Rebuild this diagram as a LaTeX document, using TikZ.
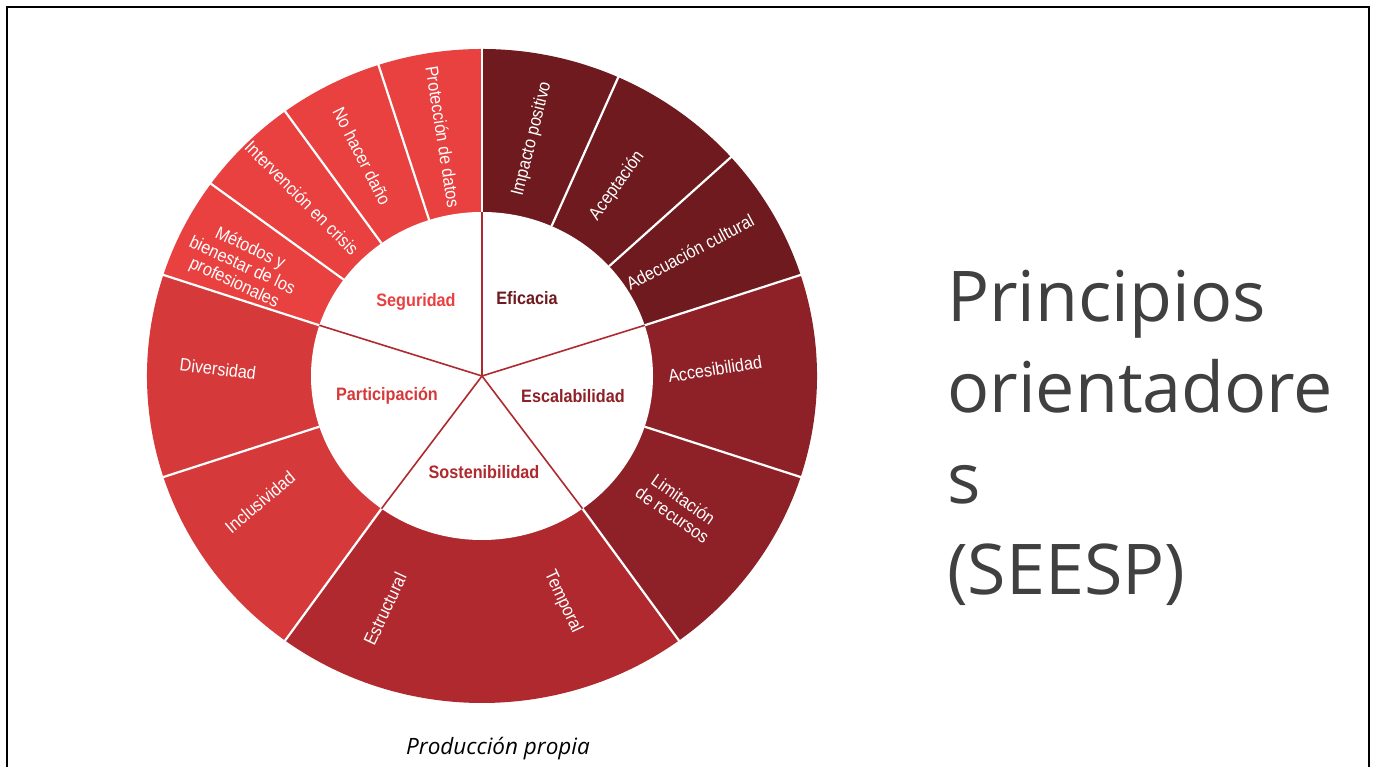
\documentclass[tikz,border=0pt]{standalone}
\usepackage{fontspec}
\setmainfont{Liberation Sans}
\newfontfamily\chartfont[FakeStretch=0.9]{Liberation Sans}
\newfontfamily\titlefont{Open Sans}
\definecolor{colSeg}{HTML}{E94040}
\definecolor{colEfi}{HTML}{6E1A1E}
\definecolor{colEsc}{HTML}{8E2127}
\definecolor{colSos}{HTML}{B0292E}
\definecolor{colPar}{HTML}{D6393A}
\definecolor{colTit}{HTML}{404040}
\tikzset{
  rotulo/.style={text=white, font=\chartfont\fontsize{18}{19}\selectfont, align=center, inner sep=0pt},
  centro/.style={font=\chartfont\fontsize{18}{19}\selectfont\bfseries, inner sep=0pt},
  divisor/.style={white, line width=2.2pt},
  radio/.style={colSos, line width=1.6pt}
}
\begin{document}
\begin{tikzpicture}[x=1pt,y=1pt]
  \useasboundingbox (0,0) rectangle (1376,767);
  \fill[white] (0,0) rectangle (1376,767);
  \draw[line width=2pt] (7,0) -- (7,760) -- (1369,760) -- (1369,0); % Frame
  \begin{scope}[shift={(482,391)}]
    % Outer ring
    \foreach \ini/\fin/\col in {18/90/colEfi, -54/18/colEsc, -126/-54/colSos, 162/234/colPar, 90/162/colSeg}
      \fill[\col] (0,0) -- (\ini:335 and 327)
        arc[start angle=\ini, end angle=\fin, x radius=335, y radius=327] -- cycle;
    \fill[white] (0,0) ellipse [x radius=171, y radius=164];
    \foreach \a in {90,66,42,18,-18,-54,-126,-162,162,144,126,108}
      \draw[divisor] (\a:171 and 164) -- (\a:337 and 329);
    \foreach \a in {90,18,-54,-126,162}
      \draw[radio] (0,0) -- (\a:171 and 164);
    % Inner labels
    \node[centro, text=colSeg] (seguridad) at (-66,74) {Seguridad};
    \node[centro, text=colEfi] (eficacia) at (45,78) {Eficacia};
    \node[centro, text=colEsc] (escalabilidad) at (91,-20) {Escalabilidad};
    \node[centro, text=colSos] (sostenibilidad) at (2,-96) {Sostenibilidad};
    \node[centro, text=colPar] (participacion) at (-95,-20) {Participación};
    % Outer labels
    \node[rotulo, rotate=-81] (proteccion) at (-39,239) {Protección de datos};
    \node[rotulo, rotate=-63] (nodano) at (-120,220) {No hacer daño};
    \node[rotulo, rotate=-45] (intervencion) at (-180,178) {Intervención en crisis};
    \node[rotulo, rotate=-25] (metodos) at (-240,110) {Métodos y\\bienestar de los\\profesionales};
    \node[rotulo, rotate=-7] (diversidad) at (-264,7) {Diversidad};
    \node[rotulo, rotate=40] (inclusividad) at (-222,-126) {Inclusividad};
    \node[rotulo, rotate=65] (estructural) at (-97,-233) {Estructural};
    \node[rotulo, rotate=-65] (temporal) at (81,-226) {Temporal};
    \node[rotulo, rotate=-35] (limitacion) at (196,-131) {Limitación\\de recursos};
    \node[rotulo, rotate=9] (accesibilidad) at (233,7) {Accesibilidad};
    \node[rotulo, rotate=28] (adecuacion) at (208,124) {Adecuación cultural};
    \node[rotulo, rotate=54] (aceptacion) at (135,190) {Aceptación};
    \node[rotulo, rotate=76] (impacto) at (50,237) {Impacto positivo};
  \end{scope}
  % Title and source
  \node[anchor=north west, inner sep=0pt, align=left, text=colTit,
    font=\titlefont\fontsize{70}{91}\selectfont] (titulo) at (947,497)
    {Principios\\orientadore\\s\\(SEESP)};
  \node[anchor=base, inner sep=0pt, font=\titlefont\itshape\fontsize{22.5}{26}\selectfont]
    (fuente) at (498,12) {Producción propia};
\end{tikzpicture}
\end{document}
